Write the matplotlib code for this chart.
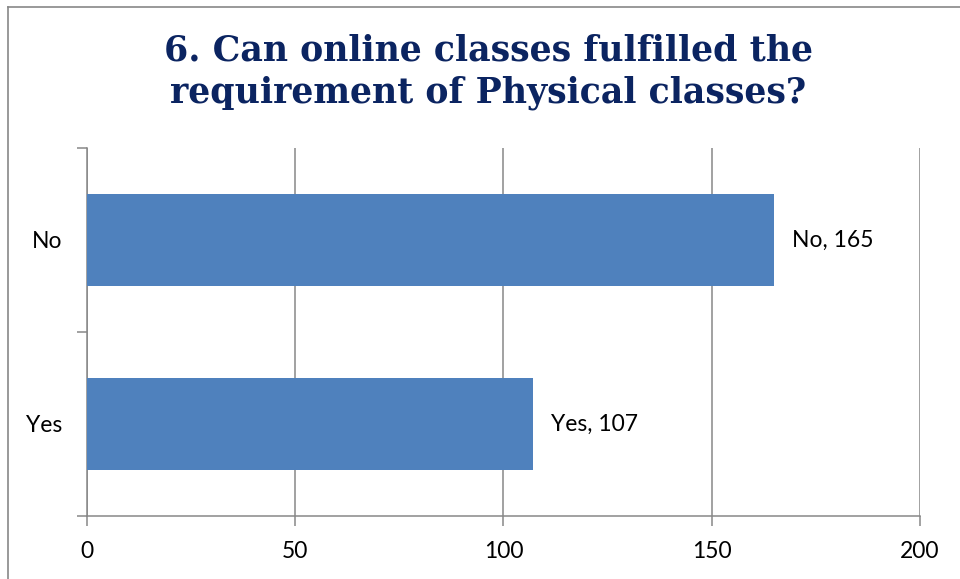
import numpy as np
from matplotlib import pyplot as plt
from matplotlib.lines import Line2D

categories = ['Yes', 'No']
counts = [107, 165]
x_ticks = [0, 50, 100, 150, 200]

bar_color = '#4F81BD'
grid_color = '#878787'
title_color = '#0B2461'

plt.rcParams['font.family'] = ['Lato', 'DejaVu Sans']

fig = plt.figure(figsize=(9.6, 5.79), dpi=100)
ax = fig.add_axes([87 / 960, 1 - 516 / 579, (920 - 87) / 960, (516 - 148) / 579])

y = np.arange(len(categories))
ax.barh(y, counts, height=0.5, color=bar_color, zorder=3)

for yi, (cat, val) in enumerate(zip(categories, counts)):
    ax.annotate(f'{cat}, {val}', xy=(val, yi), xytext=(13, 0), textcoords='offset points',
                va='center', ha='left', fontsize=16.5, color='black')

ax.set_xlim(0, 200)
ax.set_ylim(-0.5, len(categories) - 0.5)
ax.set_xticks(x_ticks)
ax.set_xticklabels([str(t) for t in x_ticks], fontsize=16.5)
ax.set_yticks(y)
ax.set_yticklabels(categories, fontsize=16.5)
ax.set_yticks(np.arange(-0.5, len(categories), 1.0), minor=True)

ax.tick_params(axis='y', which='major', length=0, pad=18)
ax.tick_params(axis='y', which='minor', length=7, width=1.1, color=grid_color, direction='out')
ax.tick_params(axis='x', length=7, width=1.1, color=grid_color, direction='out', pad=11)

ax.grid(True, axis='x', color=grid_color, linewidth=1.1, zorder=0)
for side in ['top', 'right']:
    ax.spines[side].set_visible(False)
for side in ['left', 'bottom']:
    ax.spines[side].set_color(grid_color)
    ax.spines[side].set_linewidth(1.1)

fig.text(488 / 960, 1 - 72 / 579, '6. Can online classes fulfilled the\nrequirement of Physical classes?',
         ha='center', va='center', fontsize=25, fontweight='heavy', family='DejaVu Serif',
         color=title_color, linespacing=1.3)

# outer frame (only left and top edges visible in the reference)
fig.add_artist(Line2D([8 / 960, 8 / 960], [0, 1 - 7 / 579], color=grid_color, linewidth=1.2))
fig.add_artist(Line2D([8 / 960, 1], [1 - 7 / 579, 1 - 7 / 579], color=grid_color, linewidth=1.2))

fig.savefig('out.png', dpi=100)
